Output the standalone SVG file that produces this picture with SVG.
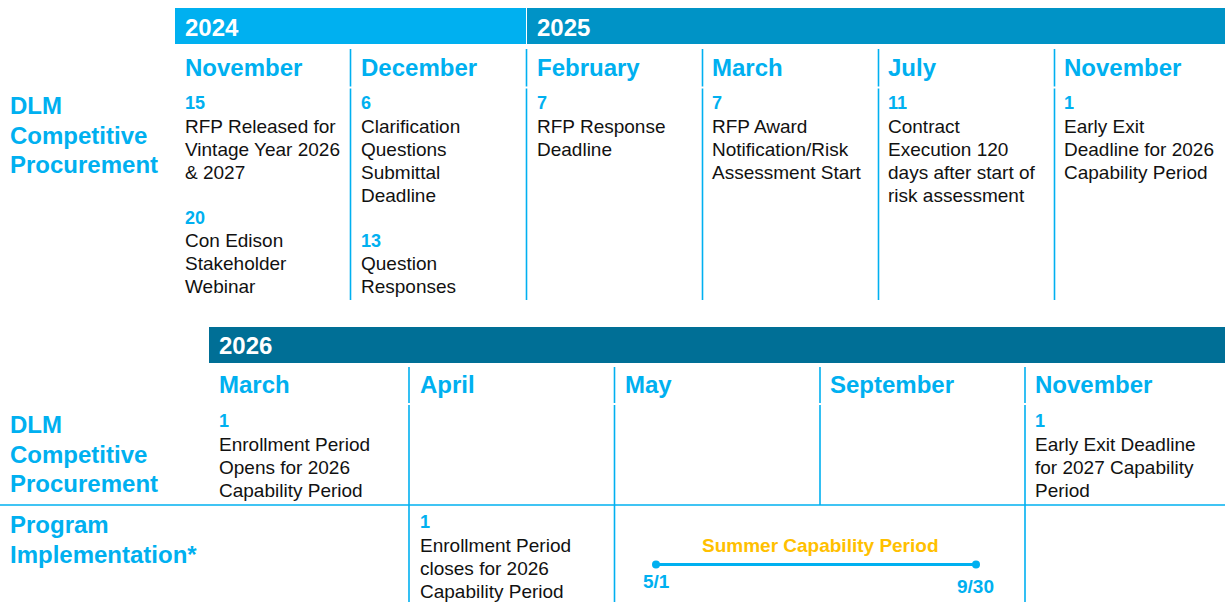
<svg xmlns="http://www.w3.org/2000/svg" width="1225" height="602" viewBox="0 0 1225 602">
<style>
text{font-family:"Liberation Sans",Arial,sans-serif}
.yr{font-size:24px;font-weight:bold;fill:#fff}
.mo{font-size:24px;font-weight:bold;fill:#00B0F0}
.lbl{font-size:24px;font-weight:bold;fill:#00B0F0}
.day{font-size:18px;font-weight:bold;fill:#00B0F0}
.body{font-size:19px;fill:#111}
.sum{font-size:19px;font-weight:bold;fill:#FFC000}
.dt{font-size:19px;font-weight:bold;fill:#00B0F0}
.grid line{stroke:#00B0F0;stroke-width:1.6}
</style>
<rect width="1225" height="602" fill="#fff"/>
<g id="bars">
<rect x="175" y="8" width="351" height="36" fill="#00B0F0"/>
<rect x="527" y="8" width="698" height="36" fill="#0093C6"/>
<rect x="209" y="327" width="1016" height="36" fill="#006F96"/>
<text class="yr" x="185" y="36">2024</text>
<text class="yr" x="537" y="36">2025</text>
<text class="yr" x="219" y="354">2026</text>
</g>
<g id="grid" class="grid">
<line x1="350.5" y1="49" x2="350.5" y2="86.5"/><line x1="350.5" y1="88.5" x2="350.5" y2="300"/>
<line x1="526.5" y1="49" x2="526.5" y2="86.5"/><line x1="526.5" y1="88.5" x2="526.5" y2="300"/>
<line x1="702.5" y1="49" x2="702.5" y2="86.5"/><line x1="702.5" y1="88.5" x2="702.5" y2="300"/>
<line x1="878.5" y1="49" x2="878.5" y2="86.5"/><line x1="878.5" y1="88.5" x2="878.5" y2="300"/>
<line x1="1054.5" y1="49" x2="1054.5" y2="86.5"/><line x1="1054.5" y1="88.5" x2="1054.5" y2="300"/>
<line x1="409" y1="367" x2="409" y2="403"/><line x1="409" y1="405" x2="409" y2="602"/>
<line x1="614.5" y1="367" x2="614.5" y2="403"/><line x1="614.5" y1="405" x2="614.5" y2="602"/>
<line x1="820" y1="367" x2="820" y2="403"/><line x1="820" y1="405" x2="820" y2="505"/>
<line x1="1025" y1="367" x2="1025" y2="403"/><line x1="1025" y1="405" x2="1025" y2="602"/>
<line x1="0" y1="505" x2="1225" y2="505"/>
</g>
<g id="row-labels">
<text class="lbl" x="10" y="114">DLM</text>
<text class="lbl" x="10" y="144">Competitive</text>
<text class="lbl" x="10" y="173">Procurement</text>
<text class="lbl" x="10" y="433">DLM</text>
<text class="lbl" x="10" y="463">Competitive</text>
<text class="lbl" x="10" y="492">Procurement</text>
<text class="lbl" x="10" y="533">Program</text>
<text class="lbl" x="10" y="563">Implementation*</text>
</g>
<g id="nov-2024">
<text class="mo" x="185" y="76">November</text>
<text class="day" x="185" y="109">15</text>
<text class="body" x="185" y="133">RFP Released for</text>
<text class="body" x="185" y="156">Vintage Year 2026</text>
<text class="body" x="185" y="179">&amp; 2027</text>
<text class="day" x="185" y="224">20</text>
<text class="body" x="185" y="247">Con Edison</text>
<text class="body" x="185" y="270">Stakeholder</text>
<text class="body" x="185" y="293">Webinar</text>
</g>
<g id="dec-2024">
<text class="mo" x="361" y="76">December</text>
<text class="day" x="361" y="109">6</text>
<text class="body" x="361" y="133">Clarification</text>
<text class="body" x="361" y="156">Questions</text>
<text class="body" x="361" y="179">Submittal</text>
<text class="body" x="361" y="202">Deadline</text>
<text class="day" x="361" y="247">13</text>
<text class="body" x="361" y="270">Question</text>
<text class="body" x="361" y="293">Responses</text>
</g>
<g id="feb-2025">
<text class="mo" x="537" y="76">February</text>
<text class="day" x="537" y="109">7</text>
<text class="body" x="537" y="133">RFP Response</text>
<text class="body" x="537" y="156">Deadline</text>
</g>
<g id="mar-2025">
<text class="mo" x="712" y="76">March</text>
<text class="day" x="712" y="109">7</text>
<text class="body" x="712" y="133">RFP Award</text>
<text class="body" x="712" y="156">Notification/Risk</text>
<text class="body" x="712" y="179">Assessment Start</text>
</g>
<g id="jul-2025">
<text class="mo" x="888" y="76">July</text>
<text class="day" x="888" y="109">11</text>
<text class="body" x="888" y="133">Contract</text>
<text class="body" x="888" y="156">Execution 120</text>
<text class="body" x="888" y="179">days after start of</text>
<text class="body" x="888" y="202">risk assessment</text>
</g>
<g id="nov-2025">
<text class="mo" x="1064" y="76">November</text>
<text class="day" x="1064" y="109">1</text>
<text class="body" x="1064" y="133">Early Exit</text>
<text class="body" x="1064" y="156">Deadline for 2026</text>
<text class="body" x="1064" y="179">Capability Period</text>
</g>
<g id="mar-2026">
<text class="mo" x="219" y="393">March</text>
<text class="day" x="219" y="427">1</text>
<text class="body" x="219" y="451">Enrollment Period</text>
<text class="body" x="219" y="474">Opens for 2026</text>
<text class="body" x="219" y="497">Capability Period</text>
</g>
<g id="apr-2026">
<text class="mo" x="420" y="393">April</text>
<text class="day" x="420" y="528">1</text>
<text class="body" x="420" y="552">Enrollment Period</text>
<text class="body" x="420" y="575">closes for 2026</text>
<text class="body" x="420" y="598">Capability Period</text>
</g>
<g id="may-2026">
<text class="mo" x="625" y="393">May</text>
</g>
<g id="sep-2026">
<text class="mo" x="830" y="393">September</text>
</g>
<g id="nov-2026">
<text class="mo" x="1035" y="393">November</text>
<text class="day" x="1035" y="427">1</text>
<text class="body" x="1035" y="451">Early Exit Deadline</text>
<text class="body" x="1035" y="474">for 2027 Capability</text>
<text class="body" x="1035" y="497">Period</text>
</g>
<g id="summer-period">
<text class="sum" x="702" y="552">Summer Capability Period</text>
<line x1="656" y1="564.5" x2="976" y2="564.5" stroke="#00B0F0" stroke-width="3"/>
<circle cx="656" cy="564.5" r="4" fill="#00B0F0"/>
<circle cx="976" cy="564.5" r="4" fill="#00B0F0"/>
<text class="dt" x="643" y="588">5/1</text>
<text class="dt" x="957" y="593">9/30</text>
</g>
</svg>
